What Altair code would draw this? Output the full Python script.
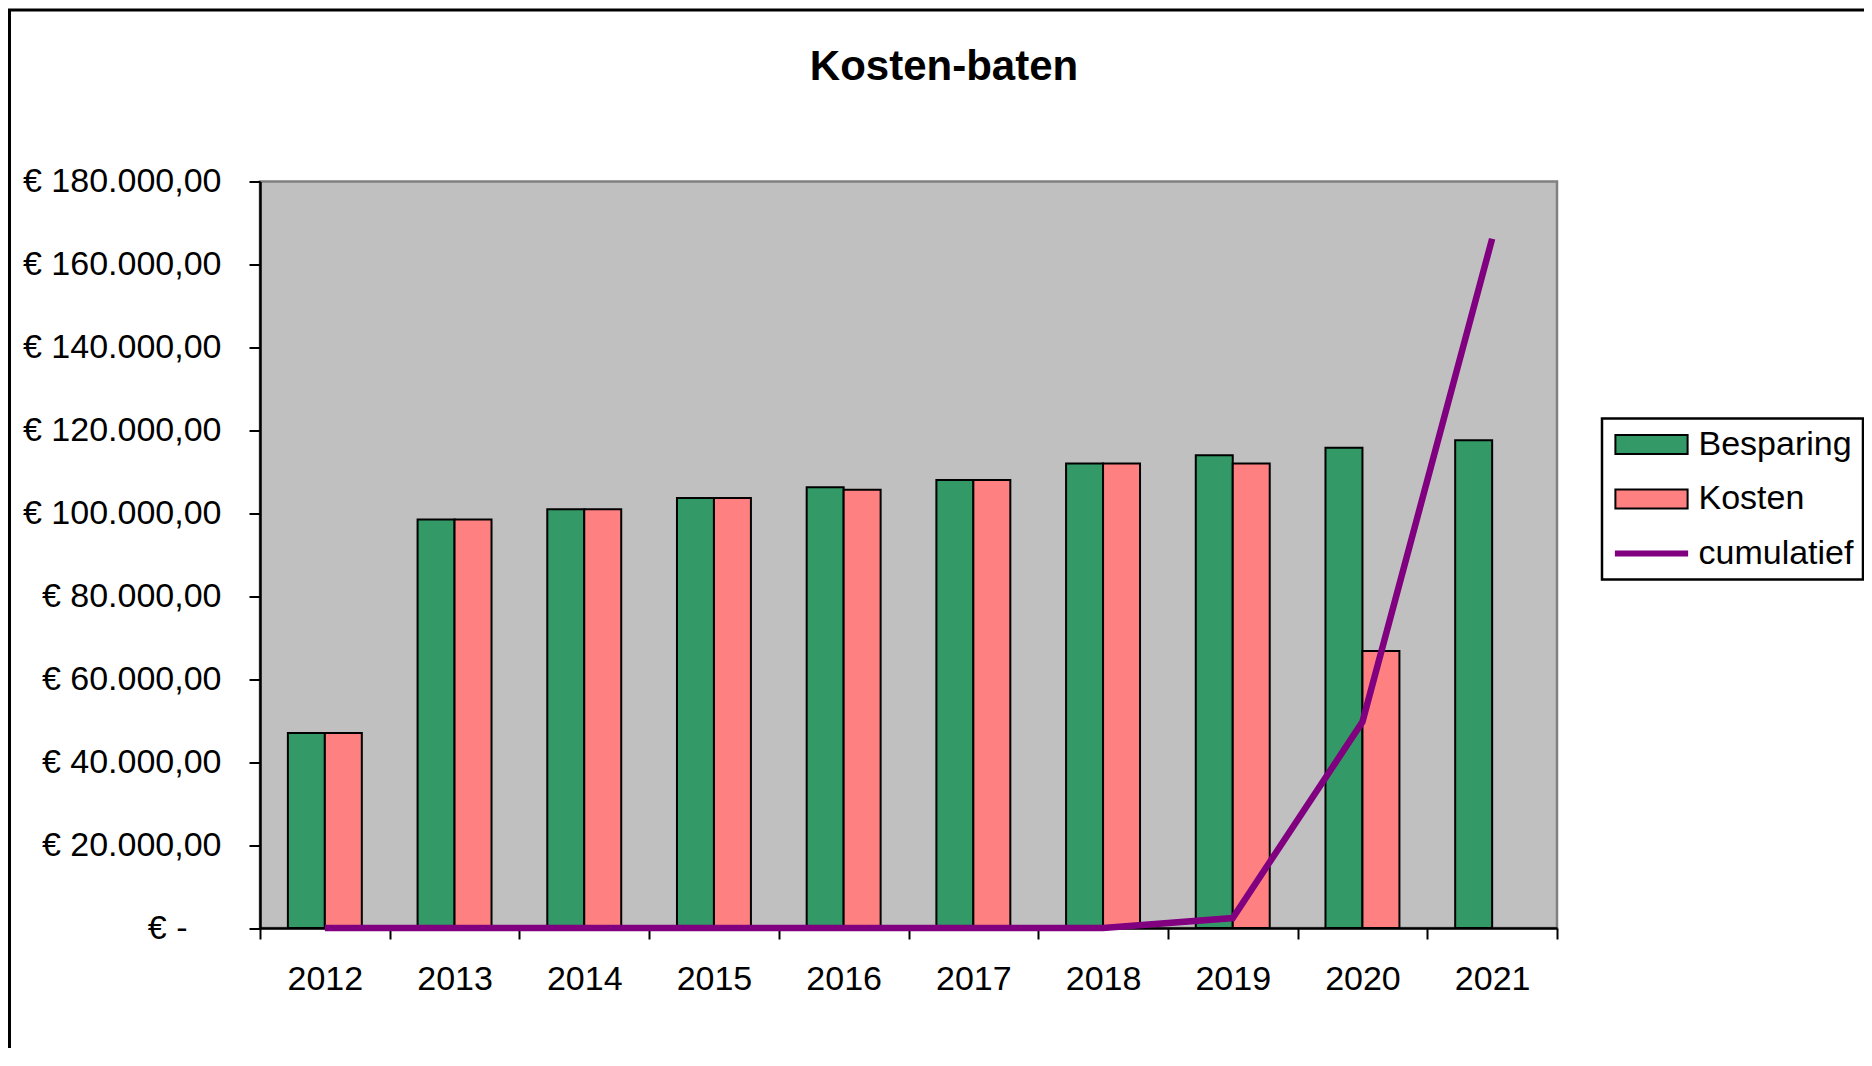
import altair as alt
import pandas as pd

# ---- data ----
years = ["2012", "2013", "2014", "2015", "2016", "2017", "2018", "2019", "2020", "2021"]
besparing = [47000, 98500, 101000, 103700, 106300, 108000, 112000, 114000, 115800, 117600]
kosten = [47000, 98500, 101000, 103700, 105700, 108000, 112000, 112000, 66800, None]
cumulatief = [0, 0, 0, 0, 0, 0, 0, 2400, 49700, 166200]

series = ["Besparing", "Kosten", "cumulatief"]
fill_colors = ["#339966", "#FF8080", "#800080"]
stroke_colors = ["#000000", "#000000", "#800080"]
y_ticks = [0, 20000, 40000, 60000, 80000, 100000, 120000, 140000, 160000, 180000]

# legend symbol shapes (unit box scaled by sqrt(symbolSize)/2)
rect_path = "M-3.8,-1L3.8,-1L3.8,1L-3.8,1Z"
line_path = "M-3.75,-0.2L3.75,-0.2L3.75,0.2L-3.75,0.2Z"
shape_paths = [rect_path, rect_path, line_path]

rows = []
for i, y in enumerate(years):
    rows.append({"jaar": y, "serie": "Besparing", "waarde": besparing[i]})
    if kosten[i] is not None:
        rows.append({"jaar": y, "serie": "Kosten", "waarde": kosten[i]})
bars_df = pd.DataFrame(rows)
line_df = pd.DataFrame({"jaar": years, "waarde": cumulatief})

W, H = 1297, 746.5
PAD_L, PAD_T = 252, 173.5
PAD_R = 1856 - PAD_L - W
PAD_B = 1040 - PAD_T - H

FONT = "Liberation Sans"

leg = alt.Legend(
    title=None,
    orient="none",
    legendX=1342,
    legendY=237,
    labelFont=FONT,
    labelFontSize=34,
    labelColor="black",
    labelOffset=30,
    labelLimit=500,
    symbolSize=361,
    symbolStrokeWidth=2,
    symbolOffset=23.5,
    rowPadding=20.5,
    padding=9,
    strokeColor="black",
    fillColor="white",
)

color_scale = alt.Scale(domain=series, range=fill_colors)
stroke_scale = alt.Scale(domain=series, range=stroke_colors)
shape_scale = alt.Scale(domain=series, range=shape_paths)

x_enc = alt.X(
    "jaar:N",
    sort=years,
    scale=alt.Scale(domain=years, paddingInner=0, paddingOuter=0),
    axis=alt.Axis(
        title=None,
        labelAngle=0,
        tickBand="extent",
        labelPadding=23,
        tickSize=11,
    ),
)

label_expr = (
    "datum.value == 0 ? '€ -' : '€ ' + "
    "replace(replace(replace(format(datum.value, ',.2f'), ',', '_'), '.', ','), '_', '.')"
)

y_enc = alt.Y(
    "waarde:Q",
    scale=alt.Scale(domain=[0, 180000], nice=False),
    axis=alt.Axis(
        title=None,
        values=y_ticks,
        labelExpr=label_expr,
        labelPadding=alt.condition("datum.value == 0", alt.value(62), alt.value(28)),
        labelLimit=500,
        tickSize=11,
        grid=False,
    ),
)

# decorative chart-area frame (Excel chart border)
frame = alt.Chart(pd.DataFrame({"k": [0]})).mark_rect(
    fill="transparent", stroke="black", strokeWidth=3
).encode(
    x=alt.value(-250.5),
    x2=alt.value(1700),
    y=alt.value(-171.5),
    y2=alt.value(1000),
)

bars = alt.Chart(bars_df).mark_bar(strokeWidth=2).encode(
    x=x_enc,
    xOffset=alt.XOffset(
        "serie:N",
        scale=alt.Scale(domain=["Besparing", "Kosten"], paddingInner=0, paddingOuter=0.754),
    ),
    y=y_enc,
    color=alt.Color("serie:N", scale=color_scale, legend=leg),
    stroke=alt.Stroke("serie:N", scale=stroke_scale, legend=leg),
)

line = alt.Chart(line_df).mark_line(
    color="#800080", strokeWidth=6.5, strokeJoin="miter"
).encode(
    x=x_enc,
    y=y_enc,
)

legend_layer = alt.Chart(bars_df).mark_point(filled=True, opacity=1).encode(
    x=x_enc,
    y=y_enc,
    color=alt.Color("serie:N", scale=color_scale, legend=leg),
    stroke=alt.Stroke("serie:N", scale=stroke_scale, legend=leg),
    shape=alt.Shape("serie:N", scale=shape_scale, legend=leg),
).transform_filter("false")

chart = alt.layer(frame, bars, line, legend_layer).properties(
    width=W,
    height=H,
    padding={"left": PAD_L, "top": PAD_T, "right": PAD_R, "bottom": PAD_B},
    autosize=alt.AutoSizeParams(type="none"),
    background="white",
    title=alt.TitleParams(
        text="Kosten-baten",
        font=FONT,
        fontSize=42,
        fontWeight="bold",
        color="black",
        anchor="middle",
        frame="group",
        dx=35.5,
        dy=80,
        offset=0,
    ),
).configure_view(
    fill="#C0C0C0",
    stroke="#808080",
    strokeWidth=2.5,
).configure_axis(
    labelFont=FONT,
    labelFontSize=34,
    labelColor="black",
    domainColor="black",
    domainWidth=2.5,
    tickColor="black",
    tickWidth=2,
).configure_legend(
    strokeWidth=2.5,
)

chart.save("out.html", embed_options={"renderer": "svg", "actions": False})
